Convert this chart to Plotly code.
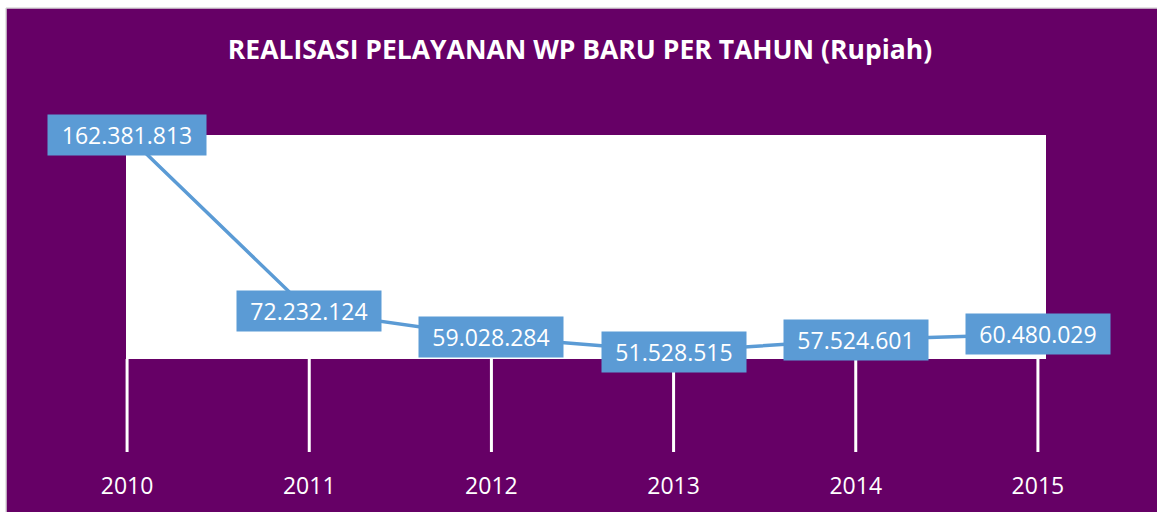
import plotly.graph_objects as go

# ---- data ----
years = [2010, 2011, 2012, 2013, 2014, 2015]
year_labels = ["2010", "2011", "2012", "2013", "2014", "2015"]
values = [162381813, 72232124, 59028284, 51528515, 57524601, 60480029]
title_text = "REALISASI PELAYANAN WP BARU PER TAHUN (Rupiah)"

# ---- styling / layout constants ----
W, H = 1157, 512
ML, MR, MT, MB = 36, 28, 101, 60
PURPLE = "#660066"
BLUE = "#5B9BD5"
FONT = "Open Sans"
X_RANGE = [2009.5, 2015.5]
Y_RANGE = [0, 180_000_000]

pw = W - ML - MR
ph = H - MT - MB


def px_to_paper_x(px):
    return (px - ML) / pw


def px_to_paper_y(py):
    return (H - MB - py) / ph


def fmt(v):
    return f"{v:,}".replace(",", ".")


fig = go.Figure()

fig.add_trace(go.Scatter(
    x=years, y=values, mode="lines",
    line=dict(color=BLUE, width=3.5),
    hoverinfo="skip", showlegend=False,
))

shapes = []
# purple chart background
shapes.append(dict(type="rect", xref="paper", yref="paper", layer="below",
                   x0=px_to_paper_x(6.5), x1=px_to_paper_x(W + 20),
                   y0=px_to_paper_y(H + 20), y1=px_to_paper_y(8.5),
                   fillcolor=PURPLE, line=dict(width=0)))
# thin gray frame on the top and left edges
shapes.append(dict(type="line", xref="paper", yref="paper", layer="below",
                   x0=px_to_paper_x(6), x1=px_to_paper_x(W + 20),
                   y0=px_to_paper_y(8), y1=px_to_paper_y(8),
                   line=dict(color="#C8C8C8", width=1)))
shapes.append(dict(type="line", xref="paper", yref="paper", layer="below",
                   x0=px_to_paper_x(6), x1=px_to_paper_x(6),
                   y0=px_to_paper_y(8), y1=px_to_paper_y(H + 20),
                   line=dict(color="#C8C8C8", width=1)))
# white plot-area panel
shapes.append(dict(type="rect", xref="paper", yref="paper", layer="below",
                   x0=px_to_paper_x(126), x1=px_to_paper_x(1046),
                   y0=px_to_paper_y(359), y1=px_to_paper_y(135),
                   fillcolor="white", line=dict(width=0)))
# white vertical category lines below the panel
for yr in years:
    shapes.append(dict(type="line", xref="x", yref="paper", layer="below",
                       x0=yr, x1=yr,
                       y0=0, y1=px_to_paper_y(359),
                       line=dict(color="white", width=3)))

annotations = []
for yr, v in zip(years, values):
    s = fmt(v)
    n_digits = sum(c.isdigit() for c in s)
    bw = 154 if n_digits >= 9 else 140
    annotations.append(dict(
        x=yr, y=v, xref="x", yref="y", text=s, showarrow=False,
        xanchor="center", yanchor="middle",
        font=dict(family=FONT, size=23, color="white"),
        bgcolor=BLUE, borderpad=2, width=bw, height=36, align="center",
    ))

fig.update_layout(
    width=W, height=H,
    margin=dict(l=ML, r=MR, t=MT, b=MB, autoexpand=False),
    paper_bgcolor="white",
    plot_bgcolor="rgba(0,0,0,0)",
    shapes=shapes,
    annotations=annotations,
    title=dict(text="<b>" + title_text + "</b>",
               x=580 / W, xref="container", xanchor="center",
               y=1 - 50 / H, yref="container", yanchor="middle",
               font=dict(family=FONT, size=26.5, color="white")),
    xaxis=dict(range=X_RANGE, tickvals=years, ticktext=year_labels,
               automargin=False,
               showgrid=False, zeroline=False, showline=False,
               ticks="outside", ticklen=13, tickcolor="rgba(0,0,0,0)",
               tickfont=dict(family=FONT, size=23, color="white")),
    yaxis=dict(range=Y_RANGE, visible=False, showgrid=False, automargin=False),
    showlegend=False,
)

fig.write_html("out.html",
               config={"displayModeBar": False},
               post_script="document.body.style.margin='0px';"
                           "document.body.style.overflow='hidden';")
